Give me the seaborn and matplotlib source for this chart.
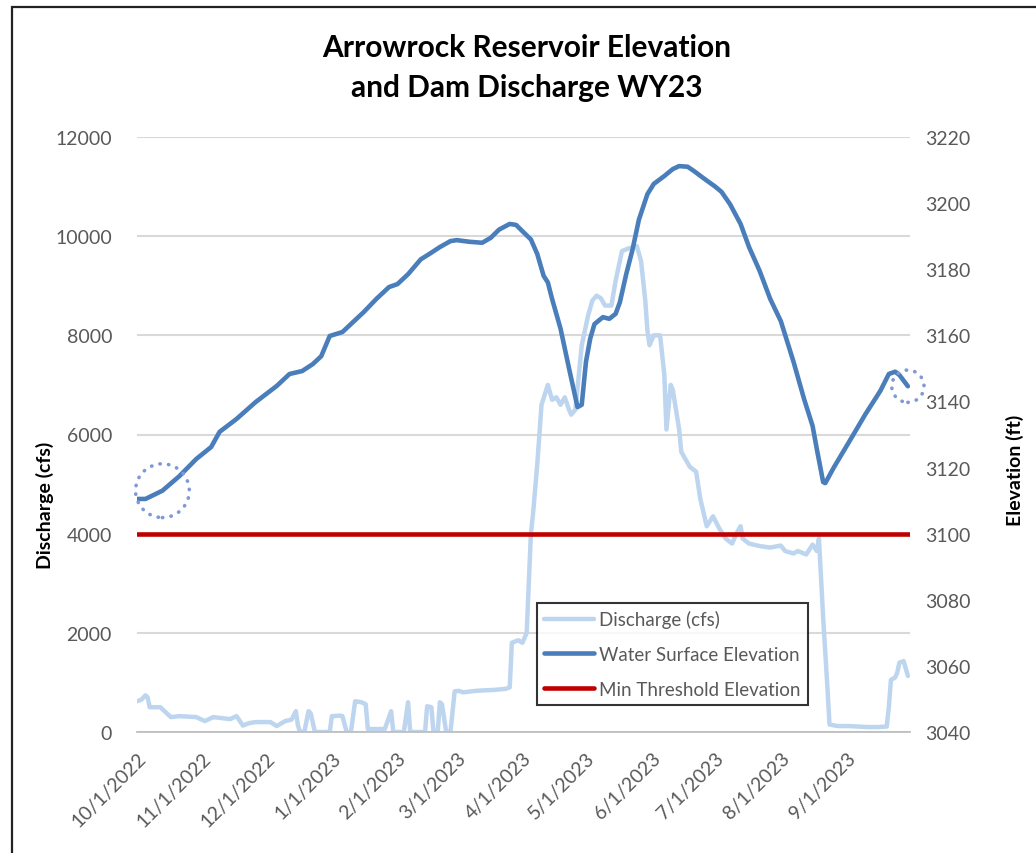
import matplotlib
matplotlib.use("Agg")
import matplotlib.pyplot as plt
from matplotlib.patches import Rectangle
from matplotlib.lines import Line2D
import pandas as pd
import seaborn as sns

# ---- data -------------------------------------------------------------
title = "Arrowrock Reservoir Elevation\nand Dam Discharge WY23"

discharge_dates = [
    "2022-10-01", "2022-10-03", "2022-10-05", "2022-10-06", "2022-10-07", "2022-10-12",
    "2022-10-14", "2022-10-17", "2022-10-21", "2022-10-29", "2022-11-02", "2022-11-06",
    "2022-11-14", "2022-11-17", "2022-11-20", "2022-11-23", "2022-11-26", "2022-12-03",
    "2022-12-06", "2022-12-10", "2022-12-13", "2022-12-15", "2022-12-16", "2022-12-17",
    "2022-12-19", "2022-12-21", "2022-12-22", "2022-12-24", "2022-12-31", "2023-01-01",
    "2023-01-05", "2023-01-06", "2023-01-08", "2023-01-10", "2023-01-12", "2023-01-15",
    "2023-01-17", "2023-01-18", "2023-01-26", "2023-01-29", "2023-01-30", "2023-02-04",
    "2023-02-06", "2023-02-07", "2023-02-14", "2023-02-15", "2023-02-17", "2023-02-18",
    "2023-02-20", "2023-02-21", "2023-02-22", "2023-02-24", "2023-02-26", "2023-02-28",
    "2023-03-02", "2023-03-04", "2023-03-10", "2023-03-14", "2023-03-19", "2023-03-24",
    "2023-03-26", "2023-03-27", "2023-03-30", "2023-04-01", "2023-04-03", "2023-04-04",
    "2023-04-05", "2023-04-06", "2023-04-08", "2023-04-10", "2023-04-13", "2023-04-15",
    "2023-04-17", "2023-04-19", "2023-04-21", "2023-04-23", "2023-04-24", "2023-04-26",
    "2023-04-29", "2023-05-02", "2023-05-04", "2023-05-06", "2023-05-08", "2023-05-10",
    "2023-05-13", "2023-05-15", "2023-05-18", "2023-05-21", "2023-05-25", "2023-05-27",
    "2023-05-29", "2023-05-30", "2023-05-31", "2023-06-02", "2023-06-05", "2023-06-07",
    "2023-06-08", "2023-06-10", "2023-06-11", "2023-06-14", "2023-06-15", "2023-06-19",
    "2023-06-22", "2023-06-24", "2023-06-27", "2023-06-30", "2023-07-03", "2023-07-06",
    "2023-07-09", "2023-07-11", "2023-07-13", "2023-07-14", "2023-07-17", "2023-07-22",
    "2023-07-27", "2023-08-01", "2023-08-03", "2023-08-07", "2023-08-09", "2023-08-13",
    "2023-08-16", "2023-08-18", "2023-08-19", "2023-08-21", "2023-08-23", "2023-08-24",
    "2023-08-28", "2023-09-02", "2023-09-07", "2023-09-11", "2023-09-16", "2023-09-20",
    "2023-09-21", "2023-09-22", "2023-09-24", "2023-09-25", "2023-09-26", "2023-09-28",
    "2023-09-30",
]
discharge_cfs = [
    620, 650, 740, 700, 500, 500,
    420, 300, 320, 300, 220, 300,
    260, 320, 130, 180, 200, 200,
    120, 220, 250, 420, 130, 0,
    0, 420, 380, 0, 0, 320,
    330, 320, 0, 0, 620, 600,
    560, 60, 60, 420, 0, 0,
    600, 0, 0, 520, 500, 0,
    0, 600, 560, 0, 0, 820,
    830, 800, 830, 840, 850, 870,
    900, 1800, 1850, 1800, 2000, 3000,
    4000, 4400, 5400, 6600, 7000, 6700,
    6750, 6600, 6750, 6500, 6400, 6500,
    7800, 8400, 8700, 8800, 8750, 8600,
    8600, 9100, 9700, 9750, 9800, 9500,
    8700, 8100, 7800, 8000, 8000, 7200,
    6100, 7000, 6900, 6100, 5650, 5350,
    5250, 4700, 4150, 4350, 4100, 3900,
    3800, 4000, 4150, 3900, 3800, 3750,
    3720, 3760, 3650, 3600, 3650, 3580,
    3780, 3650, 3900, 2300, 900, 150,
    120, 120, 110, 100, 100, 110,
    500, 1050, 1100, 1200, 1400, 1430,
    1130,
]

elevation_dates = [
    "2022-10-01", "2022-10-05", "2022-10-13", "2022-10-21", "2022-10-29", "2022-11-05",
    "2022-11-09", "2022-11-17", "2022-11-26", "2022-12-06", "2022-12-12", "2022-12-18",
    "2022-12-23", "2022-12-27", "2022-12-31", "2023-01-06", "2023-01-11", "2023-01-16",
    "2023-01-22", "2023-01-28", "2023-02-01", "2023-02-06", "2023-02-12", "2023-02-16",
    "2023-02-21", "2023-02-26", "2023-03-01", "2023-03-07", "2023-03-13", "2023-03-17",
    "2023-03-21", "2023-03-26", "2023-03-29", "2023-04-01", "2023-04-05", "2023-04-08",
    "2023-04-11", "2023-04-13", "2023-04-15", "2023-04-19", "2023-04-23", "2023-04-27",
    "2023-04-29", "2023-05-01", "2023-05-03", "2023-05-05", "2023-05-09", "2023-05-12",
    "2023-05-15", "2023-05-17", "2023-05-20", "2023-05-23", "2023-05-26", "2023-05-30",
    "2023-06-02", "2023-06-07", "2023-06-11", "2023-06-14", "2023-06-18", "2023-06-21",
    "2023-06-26", "2023-07-01", "2023-07-04", "2023-07-08", "2023-07-13", "2023-07-17",
    "2023-07-22", "2023-07-27", "2023-08-01", "2023-08-07", "2023-08-12", "2023-08-16",
    "2023-08-18", "2023-08-21", "2023-08-22", "2023-08-26", "2023-09-03", "2023-09-10",
    "2023-09-17", "2023-09-21", "2023-09-24", "2023-09-26", "2023-09-30",
]
elevation_ft = [
    3110.5, 3110.5, 3113.0, 3117.4, 3122.6, 3126.2,
    3130.8, 3134.7, 3139.8, 3144.7, 3148.3, 3149.2,
    3151.3, 3153.7, 3159.8, 3161.0, 3164.0, 3167.0,
    3171.0, 3174.6, 3175.5, 3178.5, 3183.0, 3184.6,
    3186.7, 3188.5, 3188.8, 3188.3, 3188.0, 3189.5,
    3192.0, 3193.7, 3193.4, 3191.5, 3189.0, 3184.6,
    3178.0, 3176.0, 3171.0, 3162.0, 3150.0, 3138.3,
    3139.0, 3152.0, 3159.0, 3163.4, 3165.5, 3165.0,
    3166.5, 3170.0, 3178.5, 3186.0, 3195.0, 3202.7,
    3205.8, 3208.2, 3210.3, 3211.2, 3211.0, 3209.7,
    3207.3, 3205.0, 3203.4, 3199.7, 3193.7, 3186.7,
    3179.5, 3171.0, 3164.3, 3152.0, 3140.7, 3132.6,
    3125.6, 3115.6, 3115.3, 3120.0, 3128.6, 3136.2,
    3143.2, 3148.3, 3149.0, 3148.0, 3144.6,
]

min_threshold_ft = 3100
highlight_dates = ["2022-10-13", "2023-09-30"]
highlight_sizes = [1500, 540]

discharge_ticks = [0, 2000, 4000, 6000, 8000, 10000, 12000]
elevation_ticks = [3040, 3060, 3080, 3100, 3120, 3140, 3160, 3180, 3200, 3220]
month_starts = pd.date_range("2022-10-01", "2023-10-01", freq="MS")
month_labels = [f"{d.month}/{d.day}/{d.year}" for d in month_starts[:-1]] + [""]

# ---- style ------------------------------------------------------------
sns.set_style("white")
plt.rcParams["font.family"] = ["Lato", "DejaVu Sans"]

GRAY_TEXT = "#595959"
C_DIS = "#bdd5ee"
C_ELEV = "#4a7ebb"
C_MIN = "#c00000"
C_RING = "#7f99d6"

dis = pd.DataFrame({"date": pd.to_datetime(discharge_dates), "cfs": discharge_cfs})
elev = pd.DataFrame({"date": pd.to_datetime(elevation_dates), "ft": elevation_ft})
x_start, x_end = month_starts[0], month_starts[-1]
thresh = pd.DataFrame({"date": [x_start, x_end], "ft": [min_threshold_ft] * 2})

fig = plt.figure(figsize=(10.36, 8.54), dpi=100)
ax = fig.add_axes([137 / 1036, 1 - 733 / 854, 773 / 1036, 595 / 854])
ax2 = ax.twinx()

sns.lineplot(data=dis, x="date", y="cfs", ax=ax, color=C_DIS, lw=3.2, legend=False)
sns.lineplot(data=elev, x="date", y="ft", ax=ax2, color=C_ELEV, lw=3.3, legend=False, zorder=4)
sns.lineplot(data=thresh, x="date", y="ft", ax=ax2, color=C_MIN, lw=3.3, legend=False, zorder=3)

# dotted rings around the first and last readings
hl = elev.set_index("date").loc[pd.to_datetime(highlight_dates), "ft"]
ax2.scatter(hl.index, hl.values, s=highlight_sizes, facecolors="none",
            edgecolors=C_RING, linewidths=2.6, linestyles=(0, (0.1, 2.3)),
            capstyle="round", zorder=5, clip_on=False)

ax.set_xlim(x_start, x_end)
ax.set_ylim(0, 12000)
ax2.set_ylim(3040, 3220)
ax.set_yticks(discharge_ticks)
ax.set_yticklabels([str(v) for v in discharge_ticks])
ax2.set_yticks(elevation_ticks)
ax2.set_yticklabels([str(v) for v in elevation_ticks])
ax.set_xticks(month_starts)
ax.set_xticklabels(month_labels, rotation=45, ha="right", va="top",
                   rotation_mode="anchor")

ax.yaxis.grid(True, color="#d9d9d9", lw=1.5)
ax.xaxis.grid(False)
ax2.grid(False)
for s in ["left", "right", "top"]:
    ax.spines[s].set_visible(False)
    ax2.spines[s].set_visible(False)
ax2.spines["bottom"].set_visible(False)
ax.spines["bottom"].set_color("#bfbfbf")
ax.spines["bottom"].set_linewidth(1.3)

ax.tick_params(axis="y", length=0, pad=18, labelsize=14, labelcolor=GRAY_TEXT)
ax2.tick_params(axis="y", length=0, pad=11, labelsize=14, labelcolor=GRAY_TEXT)
ax.tick_params(axis="x", length=6, width=1.2, color="#bfbfbf", direction="out",
               pad=6, labelsize=14, labelcolor=GRAY_TEXT)

ax.set_xlabel("")
ax.set_ylabel("Discharge (cfs)", fontsize=14, fontweight="bold", color="black")
ax.yaxis.set_label_coords(-0.108, 0.383)
ax2.set_ylabel("Elevation (ft)", fontsize=14, fontweight="bold", color="black",
               rotation=90)
ax2.yaxis.set_label_coords(1.124, 0.442)

fig.text(527 / 1036, 1 - 68 / 854, title, ha="center", va="center",
         fontsize=21.5, fontweight="bold", color="black", linespacing=1.5)

handles = [
    Line2D([], [], color=C_DIS, lw=3.2),
    Line2D([], [], color=C_ELEV, lw=3.3),
    Line2D([], [], color=C_MIN, lw=3.3),
]
labels = ["Discharge (cfs)", "Water Surface Elevation", "Min Threshold Elevation"]
leg = ax2.legend(handles, labels, loc="lower left", bbox_to_anchor=(0.517, 0.045),
                 borderaxespad=0, frameon=True, fancybox=False, fontsize=13.5,
                 handlelength=2.65, handletextpad=0.3, labelspacing=0.95,
                 borderpad=0.4)
leg.get_frame().set_edgecolor("black")
leg.get_frame().set_linewidth(1.5)
for t in leg.get_texts():
    t.set_color(GRAY_TEXT)
leg.set_zorder(10)

# outer frame of the chart area
fig.patches.append(Rectangle((12 / 1036, -0.05), 1.2, 1.05 - 8 / 854,
                             transform=fig.transFigure, fill=False,
                             edgecolor="#222222", lw=1.6))

fig.savefig("out.png", dpi=100, facecolor="white")
